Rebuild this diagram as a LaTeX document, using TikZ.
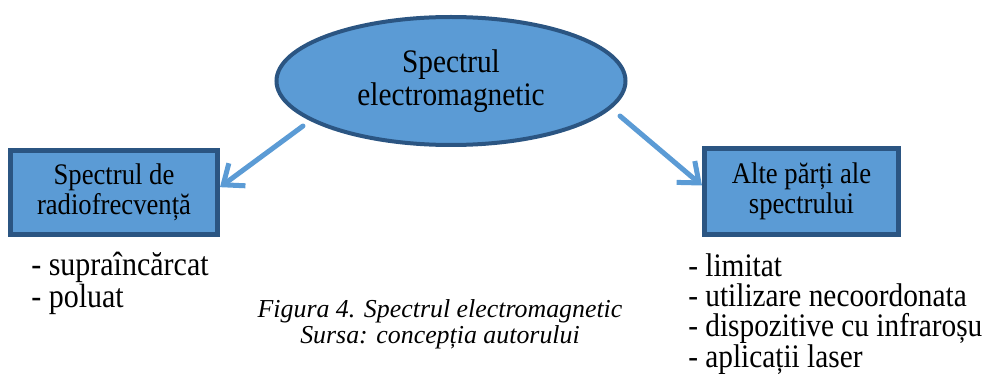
\documentclass[tikz,border=0pt]{standalone}
\usepackage{fontspec}
\setmainfont{Liberation Serif}
\usepackage{graphicx}
\usepackage{tikz}
\usetikzlibrary{arrows.meta,shapes.geometric}
\definecolor{specfill}{HTML}{5B9BD5}
\definecolor{specedge}{HTML}{2B5582}
\definecolor{specarrow}{HTML}{5B9BD5}
\newcommand{\tall}[1]{\scalebox{1}[1.12]{#1}}
\newcommand{\specfont}[2]{\fontsize{#1}{#2}\selectfont\lineskiplimit=-10pt\relax}

\begin{document}
\begin{tikzpicture}[x=0.75pt, y=-0.75pt, every node/.style={inner sep=0pt, font=\specfont{20}{22.5}},
  specbox/.style={draw=specedge, fill=specfill, line width=3.75pt, align=center},
  specarr/.style={-{Straight Barb[length=13pt,width=21pt]}, draw=specarrow, line width=3.75pt, line cap=round},
  listtext/.style={anchor=base west, align=left}]
  \useasboundingbox (0,0) rectangle (986,381);
  % centre ellipse
  \node[ellipse, draw=specedge, fill=specfill, line width=3pt, minimum width=261.75pt, minimum height=96pt, align=center, font=\specfont{22}{24.75}] (em) at (451,81) {\tall{Spectrul}\\\tall{electromagnetic}};
  % the two parts
  \node[specbox, minimum width=155.25pt, minimum height=63pt] (lbox) at (114,192.5) {\tall{Spectrul de}\\\tall{radiofrecvență}};
  \node[specbox, minimum width=145.5pt, minimum height=64.5pt] (rbox) at (801.5,191.5) {\tall{Alte părți ale}\\\tall{spectrului}};
  \coordinate (la) at (303,126);
  \coordinate (ra) at (620,116);
  \draw[specarr] (la) -- ([yshift=4pt]lbox.east);
  \draw[specarr] (ra) -- ([yshift=4.5pt]rbox.west);
  % lists under the boxes
  \node[listtext, font=\specfont{22.5}{24}] (llist) at (31,307) {\tall{- supraîncărcat}\\\tall{- poluat}};
  \node[listtext, font=\specfont{22}{22.7}] (rlist) at (688,367) {\tall{- limitat}\\\tall{- utilizare necoordonata}\\\tall{- dispozitive cu infraroșu}\\\tall{- aplicații laser}};
  \node[anchor=base, align=center, font=\itshape\specfont{19.4}{19}] (cap) at (440,343) {Figura 4. Spectrul electromagnetic\\Sursa: concepția autorului};
\end{tikzpicture}
\end{document}
